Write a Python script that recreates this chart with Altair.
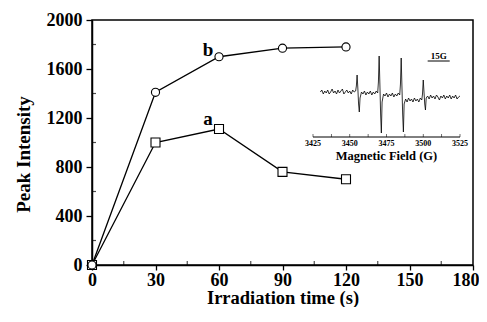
import altair as alt
import pandas as pd

# ---------------- data ----------------
time_s = [0, 30, 60, 90, 120]
series_a = [0, 1000, 1110, 760, 700]
series_b = [0, 1410, 1700, 1770, 1780]

x_ticks = [0, 30, 60, 90, 120, 150, 180]
y_ticks = [0, 400, 800, 1200, 1600, 2000]
x_minor = [15, 45, 75, 105, 135, 165]
y_minor = [200, 600, 1000, 1400, 1800]

field_G = [3430, 3431, 3432, 3433, 3434, 3435, 3436, 3437, 3438, 3439,
           3440, 3441, 3442, 3443, 3444, 3445, 3446, 3447, 3448, 3449,
           3450, 3451, 3452, 3453, 3454, 3454.5, 3455, 3455.5, 3456, 3456.5,
           3457, 3458, 3459, 3460, 3461, 3462, 3463, 3464, 3465, 3466,
           3467, 3468, 3469, 3469.5, 3470, 3470.5, 3471, 3471.5, 3472, 3473,
           3474, 3475, 3476, 3477, 3478, 3479, 3480, 3481, 3482, 3483,
           3484, 3484.5, 3485, 3485.5, 3486, 3486.5, 3487, 3488, 3489, 3490,
           3491, 3492, 3493, 3494, 3495, 3496, 3497, 3498, 3499, 3499.5,
           3500, 3500.5, 3501, 3501.5, 3502, 3503, 3504, 3505, 3506, 3507,
           3508, 3509, 3510, 3511, 3512, 3513, 3514, 3515, 3516, 3517,
           3518, 3519, 3520, 3521, 3522, 3523, 3524, 3525]
epr_signal = [2, 4, 0, 3, 1, 4, 0, 2, 5, 1,
              3, 0, 4, 1, 3, 5, 0, 2, 4, 1,
              3, 0, 4, 2, 3, 8, 19, 6, -10, -18,
              -4, 2, 0, 3, -1, 2, 0, 3, -1, 2,
              0, 3, 1, 12, 38, 10, -20, -39, -8, 0,
              -2, 1, -3, 0, -2, 1, -3, 0, -2, 1,
              -1, 10, 36, 8, -20, -38, -10, -5, -8, -4,
              -7, -5, -8, -4, -7, -5, -8, -4, -6, 0,
              14, 2, -10, -16, -4, -2, -5, -1, -4, -2,
              -5, -1, -3, -6, -2, -4, -1, -5, -2, -4,
              -1, -5, -2, -4, -1, -5, -3, -2]

inset_ticks = [3425, 3437.5, 3450, 3462.5, 3475, 3487.5, 3500, 3512.5, 3525]
inset_labels = [3425, 3450, 3475, 3500, 3525]
inset_title = "Magnetic Field (G)"
scale_bar_G = [3503, 3518]
scale_bar_text = "15G"

FONT = "Liberation Serif"
INSET_AXIS_LEVEL = -43
SCALE_BAR_LEVEL = 33

df_a = pd.DataFrame({"t": time_s, "v": series_a})
df_b = pd.DataFrame({"t": time_s, "v": series_b})
df_xm = pd.DataFrame({"t": x_minor, "v": [0] * len(x_minor)})
df_ym = pd.DataFrame({"t": [0] * len(y_minor), "v": y_minor})
df_la = pd.DataFrame({"t": [60], "v": [series_a[2]], "lab": ["a"]})
df_lb = pd.DataFrame({"t": [60], "v": [series_b[2]], "lab": ["b"]})
df_epr = pd.DataFrame({"g": field_G, "s": epr_signal})
df_bar = pd.DataFrame({"g": [scale_bar_G[0]], "g2": [scale_bar_G[1]], "s": [SCALE_BAR_LEVEL],
                       "gm": [(scale_bar_G[0] + scale_bar_G[1]) / 2], "lab": [scale_bar_text]})
df_iaxis = pd.DataFrame({"g": [inset_ticks[0]], "g2": [inset_ticks[-1]], "s": [INSET_AXIS_LEVEL]})
df_iticks = pd.DataFrame({"g": inset_ticks, "s": [INSET_AXIS_LEVEL] * len(inset_ticks)})
df_ilabels = pd.DataFrame({"g": inset_labels, "s": [INSET_AXIS_LEVEL] * len(inset_labels),
                           "lab": [str(v) for v in inset_labels]})
df_ititle = pd.DataFrame({"g": [(inset_ticks[0] + inset_ticks[-1]) / 2], "s": [INSET_AXIS_LEVEL],
                          "lab": [inset_title]})

xs = alt.Scale(domain=[0, 180], nice=False, zero=False)
ys = alt.Scale(domain=[0, 2000], nice=False, zero=False)

last_x = x_ticks[-1]
x_main = alt.X("t:Q", scale=xs, axis=alt.Axis(
    values=x_ticks, format="d", title="Irradiation time (s)", grid=False,
    labelFont=FONT, labelFontSize=18, labelFontWeight="bold", labelColor="black",
    labelAlign={"condition": {"test": f"datum.value === {last_x}", "value": "right"}, "value": "center"},
    labelOffset={"condition": {"test": f"datum.value === {last_x}", "value": 6}, "value": 0},
    labelPadding=1, tickSize=5, tickColor="black", tickWidth=1.3,
    domainColor="black", domainWidth=1.5,
    titleFont=FONT, titleFontSize=18.5, titleFontWeight="bold", titleColor="black",
    titleY=38, titleBaseline="alphabetic", labelFlush=False))
y_main = alt.Y("v:Q", scale=ys, axis=alt.Axis(
    values=y_ticks, format="d", title="Peak Intensity", grid=False,
    labelFont=FONT, labelFontSize=18, labelFontWeight="bold", labelColor="black",
    labelPadding=4, tickSize=6, tickColor="black", tickWidth=1.3,
    domainColor="black", domainWidth=1.5,
    titleFont=FONT, titleFontSize=19, titleFontWeight="bold", titleColor="black",
    titlePadding=13, titleY=134, labelFlush=False))
x_n = alt.X("t:Q", scale=xs, axis=None)
y_n = alt.Y("v:Q", scale=ys, axis=None)

line_a = alt.Chart(df_a).mark_line(color="black", strokeWidth=1.3).encode(x=x_main, y=y_main)
line_b = alt.Chart(df_b).mark_line(color="black", strokeWidth=1.3).encode(x=x_n, y=y_n)
pts_a = alt.Chart(df_a).mark_point(shape="square", size=81, filled=True, fill="white",
                                   stroke="black", strokeWidth=1.1, opacity=1).encode(x=x_n, y=y_n)
pts_b = alt.Chart(df_b).mark_point(shape="circle", size=66, filled=True, fill="white",
                                   stroke="black", strokeWidth=1.1, opacity=1).encode(x=x_n, y=y_n)
txt_a = alt.Chart(df_la).mark_text(font=FONT, fontSize=19, fontWeight="bold", color="black",
                                   dx=-11, dy=-10, baseline="middle").encode(x=x_n, y=y_n, text="lab:N")
txt_b = alt.Chart(df_lb).mark_text(font=FONT, fontSize=19, fontWeight="bold", color="black",
                                   dx=-11, dy=-7, baseline="middle").encode(x=x_n, y=y_n, text="lab:N")
minor_x = alt.Chart(df_xm).mark_tick(orient="vertical", size=4, yOffset=-2, thickness=1.2,
                                     color="black").encode(x=x_n, y=y_n)
minor_y = alt.Chart(df_ym).mark_tick(orient="horizontal", size=4, xOffset=2, thickness=1.2,
                                     color="black").encode(x=x_n, y=y_n)

# ---------------- inset ----------------
gs = alt.Scale(domain=[3425, 3525], range=[221, 368], nice=False, zero=False)
ss = alt.Scale(domain=[-50, 50], range=[124, 24], nice=False, zero=False)
g_n = alt.X("g:Q", scale=gs, axis=None)
s_n = alt.Y("s:Q", scale=ss, axis=None)

spec = alt.Chart(df_epr).mark_line(color="black", strokeWidth=0.8).encode(x=g_n, y=s_n)
bar = alt.Chart(df_bar).mark_rule(color="black", strokeWidth=1).encode(x=g_n, x2="g2:Q", y=s_n)
bar_t = alt.Chart(df_bar).mark_text(font=FONT, fontSize=9, fontWeight="bold", color="black",
                                    dy=-5).encode(x=alt.X("gm:Q", scale=gs, axis=None), y=s_n, text="lab:N")
iaxis = alt.Chart(df_iaxis).mark_rule(color="black", strokeWidth=1).encode(x=g_n, x2="g2:Q", y=s_n)
iticks = alt.Chart(df_iticks).mark_tick(orient="vertical", size=3, yOffset=-1.5, thickness=0.8,
                                        color="black").encode(x=g_n, y=s_n)
ilabels = alt.Chart(df_ilabels).mark_text(font=FONT, fontSize=8, fontWeight="bold", color="black",
                                          dy=7).encode(x=g_n, y=s_n, text="lab:N")
ititle = alt.Chart(df_ititle).mark_text(font=FONT, fontSize=12.5, fontWeight="bold", color="black",
                                        dy=18.5).encode(x=g_n, y=s_n, text="lab:N")

chart = alt.layer(
    line_a, line_b, minor_x, minor_y, pts_a, pts_b, txt_a, txt_b,
    spec, bar, bar_t, iaxis, iticks, ilabels, ititle,
).resolve_scale(x="independent", y="independent").properties(
    width=381, height=245,
    autosize=alt.AutoSizeParams(type="none"),
    padding={"left": 84, "top": 12, "right": 6, "bottom": 42},
).configure_view(stroke="black", strokeWidth=1.5)

chart.save("out.html", embed_options={"renderer": "svg", "actions": False})
